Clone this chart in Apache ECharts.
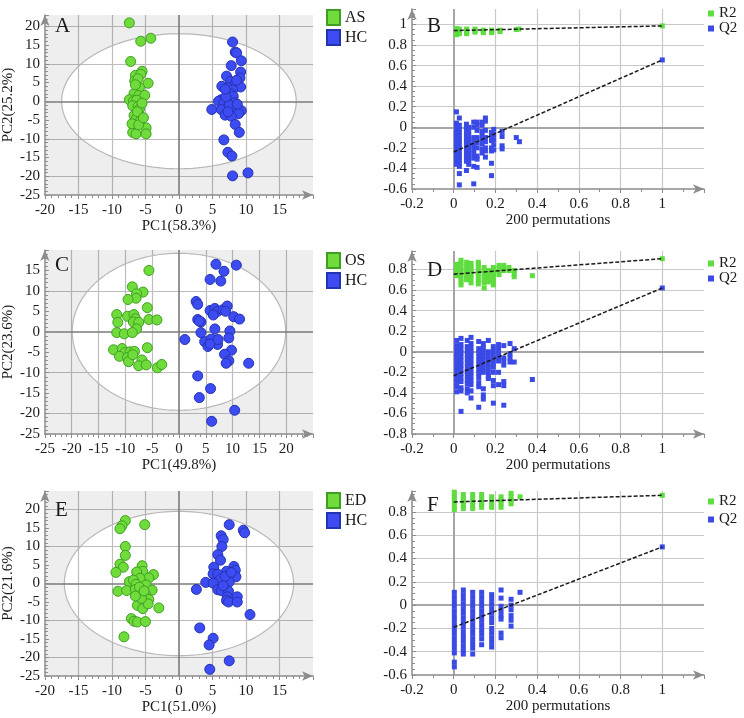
<!DOCTYPE html>
<html>
<head>
<meta charset="utf-8">
<script src="https://cdn.jsdelivr.net/npm/echarts@6/dist/echarts.min.js"></script>
<style>html,body{margin:0;padding:0;background:#fff}#c{width:744px;height:718px}</style>
</head>
<body>
<div id="c"></div>
<script>
// ---------- DATA ----------
const aAS = [[-7.4,20.9],[-5.7,16.0],[-4.2,16.8],[-7.2,10.6],[-5.5,8.0],[-6.5,6.9],[-5.7,7.2],[-6.6,5.4],[-4.6,4.8],[-5.9,3.7],[-6.7,2.1],[-6.0,1.5],[-5.1,1.6],[-7.4,0.4],[-6.8,0.0],[-6.3,0.3],[-6.9,-1.2],[-6.1,-1.4],[-5.9,-2.1],[-6.7,-3.8],[-5.9,-3.8],[-6.4,-4.7],[-5.8,-5.3],[-6.7,-6.8],[-4.9,-7.1],[-6.9,-8.3],[-6.4,-8.7],[-4.9,-8.7],[-6.1,6.0],[-6.2,-2.8],[-5.5,-0.5],[-7.0,-6.0],[-6.0,-6.3],[-5.3,-4.4],[-6.5,4.4]];
const aHC = [[8.0,15.8],[8.4,13.1],[8.6,12.9],[9.3,10.8],[7.8,9.5],[9.2,7.8],[9.1,6.2],[7.1,6.7],[7.7,5.3],[8.4,4.6],[6.4,4.0],[7.3,3.6],[9.2,3.8],[8.0,3.0],[7.7,2.0],[8.1,1.3],[6.3,0.4],[5.9,0.0],[6.7,-0.3],[8.3,-0.4],[4.9,-2.2],[6.3,-2.2],[8.1,-1.4],[9.3,-2.5],[8.9,-3.3],[6.9,-3.7],[7.8,-4.0],[8.4,-6.2],[9.0,-8.3],[6.7,-10.3],[7.3,-13.6],[7.9,-14.6],[8.0,-19.9],[10.3,-19.1],[7.5,-1.0],[7.0,1.2],[8.6,5.6],[7.3,-2.8],[6.9,3.2],[8.7,-0.8]];
const cOS = [[-5.6,15.0],[-8.7,11.0],[-6.7,9.7],[-7.9,9.3],[-8.0,8.2],[-9.5,7.9],[-5.9,5.9],[-11.6,4.2],[-9.6,3.8],[-8.4,4.2],[-8.1,3.2],[-5.6,3.0],[-4.1,2.9],[-11.4,2.3],[-8.5,2.4],[-7.5,2.3],[-7.9,0.7],[-11.6,-0.2],[-10.2,-0.5],[-8.7,-0.2],[-5.9,-3.9],[-12.2,-4.4],[-10.6,-4.1],[-10.1,-5.1],[-9.1,-4.9],[-8.3,-4.8],[-11.1,-6.0],[-9.6,-6.3],[-9.4,-7.3],[-6.9,-6.9],[-7.5,-8.3],[-6.1,-8.1],[-4.0,-8.8],[-3.2,-8.0],[-8.6,-5.6]];
const cHC = [[6.9,16.5],[10.7,16.3],[8.4,14.8],[5.8,12.8],[7.8,12.4],[3.2,7.4],[3.5,6.7],[5.8,5.2],[6.7,5.7],[7.2,5.0],[6.4,4.1],[8.2,5.4],[9.0,6.3],[8.7,5.0],[10.2,3.7],[11.3,3.1],[3.5,3.0],[4.1,2.4],[3.8,2.6],[6.7,0.7],[9.5,0.2],[1.1,-1.9],[4.1,-0.2],[9.3,-1.5],[4.8,-2.4],[5.4,-3.6],[6.1,-2.6],[6.7,-2.0],[7.2,-3.1],[6.0,-1.8],[5.8,-3.0],[7.3,-1.9],[9.8,-4.5],[8.5,-5.5],[9.3,-7.1],[8.8,-7.7],[13.0,-7.7],[3.5,-10.8],[5.9,-13.9],[3.8,-16.1],[10.4,-19.2],[6.1,-21.9]];
const eED = [[-8.0,17.0],[-8.5,15.6],[-8.8,14.8],[-5.1,15.9],[-8.0,10.0],[-8.0,7.6],[-8.8,5.2],[-8.3,4.4],[-9.4,3.0],[-5.5,4.8],[-5.4,3.3],[-6.3,3.1],[-3.8,2.4],[-4.5,1.5],[-5.8,1.4],[-7.4,0.5],[-6.8,0.9],[-6.4,-0.2],[-4.9,-0.4],[-9.1,-2.1],[-7.8,-1.9],[-6.5,-1.6],[-5.9,-1.0],[-4.0,-1.8],[-5.0,-3.0],[-4.5,-4.3],[-6.2,-5.9],[-5.4,-6.8],[-4.6,-5.5],[-3.0,-6.6],[-5.6,-4.0],[-7.1,-9.5],[-6.7,-10.2],[-6.2,-10.4],[-5.0,-10.3],[-8.2,-14.4],[-6.5,-3.4],[-5.2,-2.0]];
const eHC = [[7.5,15.9],[9.6,14.4],[9.8,13.7],[6.3,12.9],[6.6,11.9],[6.4,10.0],[5.8,7.8],[6.2,6.3],[8.2,4.6],[8.4,3.6],[5.2,4.4],[7.1,3.3],[7.6,2.4],[5.1,2.6],[5.8,2.5],[8.5,1.8],[6.2,1.2],[4.0,0.3],[5.1,0.1],[7.5,0.4],[2.6,-1.6],[5.8,-1.7],[6.3,-1.9],[7.4,-2.1],[7.2,-3.6],[8.7,-3.6],[7.1,-4.6],[7.4,-5.0],[8.7,-5.0],[10.6,-8.4],[3.1,-12.0],[5.1,-14.8],[4.5,-16.6],[7.5,-20.9],[4.6,-23.2],[6.9,1.9],[7.8,3.0],[6.6,-0.6]];
// Hotelling T2 ellipse radii [rx, ry]
const aEllipse = [17.5, 18.0];
const cEllipse = [19.9, 19.2];
const eEllipse = [17.1, 19.5];

// permutation columns: [x, [y values]]
const bR2Cols = [[0.013,[0.96,0.945,0.93,0.915,0.90]],[0.027,[0.955,0.94,0.925,0.91]],[0.062,[0.955,0.94,0.925,0.91]],[0.102,[0.955,0.94,0.925]],[0.142,[0.945,0.93,0.92]],[0.182,[0.945,0.93,0.92]],[0.222,[0.945,0.93]],[0.30,[0.95]],[0.312,[0.955]],[1,[0.986]]];
const bQ2Cols = [[0.013,[0.15,0.04,0.0,-0.03,-0.06,-0.09,-0.12,-0.15,-0.18,-0.21,-0.24,-0.27,-0.30,-0.33,-0.36]],[0.027,[0.09,0.02,-0.02,-0.05,-0.08,-0.11,-0.14,-0.17,-0.2,-0.23,-0.26,-0.29,-0.32,-0.35,-0.38,-0.45,-0.56]],[0.061,[0.03,-0.01,-0.05,-0.09,-0.13,-0.17,-0.21,-0.25,-0.29,-0.33,-0.42]],[0.072,[0.0,-0.04,-0.08,-0.12,-0.16,-0.2,-0.24,-0.28,-0.32,-0.36]],[0.096,[0.05,0.0,-0.1,-0.14,-0.18,-0.22,-0.26,-0.30,-0.38,-0.55]],[0.112,[0.05,0.02,-0.03,-0.1,-0.15,-0.2,-0.28,-0.31,-0.39]],[0.136,[0.05,0.02,-0.04,-0.08,-0.12,-0.16,-0.21,-0.25]],[0.152,[0.09,0.06,-0.03,-0.1,-0.14,-0.2,-0.23,-0.29]],[0.181,[-0.05,-0.08,-0.1,-0.13,-0.2,-0.23,-0.35,-0.47]],[0.192,[-0.02,-0.07,-0.12,-0.17,-0.22]],[0.232,[-0.04,-0.09,-0.18,-0.21]],[0.30,[-0.10]],[0.315,[-0.14]],[1,[0.655]]];
const bR2Fit = [[0,0.94],[1,0.986]];
const bQ2Fit = [[0,-0.24],[1,0.655]];

const dR2Cols = [[0.014,[0.85,0.82,0.79,0.76,0.74]],[0.035,[0.89,0.86,0.83,0.8,0.77,0.74,0.71,0.68,0.65]],[0.062,[0.87,0.84,0.81,0.78,0.75,0.72,0.70]],[0.083,[0.86,0.83,0.8,0.77,0.74,0.71,0.67]],[0.118,[0.87,0.84,0.81,0.78,0.75,0.72,0.69,0.66]],[0.146,[0.82,0.79,0.76,0.73,0.70,0.67,0.62]],[0.166,[0.79,0.76,0.73,0.70,0.68]],[0.19,[0.82,0.79,0.76,0.73,0.70,0.67,0.65]],[0.217,[0.84,0.81,0.78,0.75]],[0.24,[0.84,0.81,0.79]],[0.265,[0.82,0.79]],[0.29,[0.79,0.76,0.73]],[0.377,[0.74]],[1,[0.905]]];
const dQ2Cols = [[0.014,[0.11,0.06,0.02,-0.02,-0.06,-0.1,-0.14,-0.18,-0.22,-0.26,-0.30,-0.34,-0.39]],[0.035,[0.13,0.07,0.03,-0.01,-0.05,-0.09,-0.13,-0.17,-0.21,-0.25,-0.29,-0.35,-0.38,-0.58]],[0.065,[0.11,0.05,0.01,-0.03,-0.07,-0.11,-0.15,-0.19,-0.23,-0.27,-0.31,-0.36,-0.40]],[0.083,[0.14,0.08,0.04,0.0,-0.04,-0.08,-0.12,-0.16,-0.2,-0.24,-0.28,-0.32,-0.38,-0.45]],[0.12,[0.1,0.03,-0.01,-0.05,-0.09,-0.13,-0.17,-0.21,-0.25,-0.3,-0.34,-0.54]],[0.142,[0.08,0.04,0.0,-0.04,-0.08,-0.12,-0.16,-0.2,-0.36,-0.42,-0.46]],[0.166,[0.11,0.0,-0.04,-0.08,-0.12,-0.16,-0.2,-0.24,-0.26]],[0.19,[0.05,0.01,-0.03,-0.07,-0.11,-0.15,-0.2,-0.28,-0.33,-0.50]],[0.215,[0.07,0.03,-0.01,-0.05,-0.09,-0.2,-0.32]],[0.24,[0.06,-0.06,-0.09,-0.13,-0.29,-0.33,-0.52]],[0.27,[0.08,-0.02,-0.06,-0.1]],[0.29,[0.03,-0.1]],[0.377,[-0.27]],[1,[0.62]]];
const dR2Fit = [[0,0.755],[1,0.905]];
const dQ2Fit = [[0,-0.233],[1,0.62]];

const fR2Cols = [[0.003,[0.97,0.94,0.91,0.88,0.85,0.82]],[0.046,[0.95,0.92,0.89,0.86,0.83]],[0.091,[0.95,0.92,0.89,0.86,0.83]],[0.134,[0.95,0.92,0.89,0.86,0.84]],[0.182,[0.93,0.9,0.87,0.84]],[0.227,[0.93,0.9,0.87,0.84]],[0.275,[0.96,0.93,0.9,0.87]],[0.318,[0.93]],[1,[0.943]]];
const fQ2Cols = [[0.003,[0.11,0.07,0.03,-0.01,-0.05,-0.09,-0.13,-0.17,-0.21,-0.25,-0.29,-0.33,-0.37,-0.41,-0.49,-0.53]],[0.046,[0.13,0.09,0.05,0.01,-0.03,-0.07,-0.11,-0.15,-0.19,-0.23,-0.27,-0.31,-0.35,-0.39,-0.42]],[0.091,[0.11,0.07,0.03,-0.01,-0.05,-0.09,-0.13,-0.17,-0.21,-0.25,-0.29,-0.33,-0.37,-0.42]],[0.134,[0.11,0.07,0.03,-0.01,-0.05,-0.09,-0.13,-0.17,-0.21,-0.25,-0.29,-0.34]],[0.182,[0.09,0.05,0.01,-0.03,-0.07,-0.11,-0.15,-0.2,-0.24,-0.28,-0.32,-0.36]],[0.227,[0.13,0.06,-0.01,-0.05,-0.09,-0.12,-0.24,-0.28]],[0.275,[0.05,0.0,-0.04,-0.09,-0.13,-0.18]],[0.318,[0.11]],[1,[0.5]]];
const fR2Fit = [[0,0.886],[1,0.943]];
const fQ2Fit = [[0,-0.19],[1,0.5]];

// grid line positions (axis values) per panel
const gridXs = [[-15,-10,-5,5,10,15], [0.2,0.4,0.6,0.8,1.0], [-20,-15,-10,-5,5,10,15,20], [0.2,0.4,0.6,0.8,1.0], [-15,-10,-5,5,10,15], [0.2,0.4,0.6,0.8,1.0]];
const gridYs = [[-20,-10,10,20], [-0.4,-0.2,0.2,0.4,0.6,0.8,1.0], [-20,-10,10], [-0.6,-0.4,-0.2,0.2,0.4,0.6,0.8], [-20,-10,10,20], [-0.4,-0.2,0.2,0.4,0.6,0.8]];

const pcaNames = [['AS','HC'],['OS','HC'],['ED','HC']];
const axisNames = {pc1:['PC1(58.3%)','PC1(49.8%)','PC1(51.0%)'], pc2:['PC2(25.2%)','PC2(23.6%)','PC2(21.6%)'], perm:'200 permutations'};
const letters = ['A','B','C','D','E','F'];

// ---------- STYLE / LAYOUT ----------
const FONT = '"Liberation Serif", "Times New Roman", serif';
const TXT = '#1a1a1a';
const AX = '#8c8c8c';
const GREEN = '#6fdc3c', GREEN_B = '#3f9f22';
const BLUE = '#3d4cf2', BLUE_B = '#2433b0';
const PGREEN = '#5fdc3f', PBLUE = '#3a4ae6';

const flat = cols => { const out = []; cols.forEach(c => c[1].forEach(y => out.push([c[0], y]))); return out; };

const grids = [
  {left:40, top:15, width:273, height:180},   // A
  {left:412, top:9, width:292, height:180},   // B
  {left:40, top:250, width:273, height:184},  // C
  {left:412, top:251, width:292, height:183}, // D
  {left:40, top:491, width:273, height:185},  // E
  {left:412, top:491, width:292, height:184}  // F
];
const ranges = [
  {x:[-20,20,5], y:[-25,23,5]},
  {x:[-0.2,1.2,0.2], y:[-0.6,1.15,0.2]},
  {x:[-25,25,5], y:[-25,20,5]},
  {x:[-0.2,1.2,0.2], y:[-0.8,0.98,0.2]},
  {x:[-20,20,5], y:[-25,25,5]},
  {x:[-0.2,1.2,0.2], y:[-0.6,0.98,0.2]}
];

function mkAxis(i, dim, pca) {
  const r = ranges[i][dim];
  const isX = dim === 'x';
  const k = Math.floor(i/2);
  return {
    type:'value', gridIndex:i, min:r[0], max:r[1], interval:r[2], z:4,
    axisLine:{show:true, onZero:false, lineStyle:{color:AX, width:1.5}, symbol:['none','arrow'], symbolSize:[7,11]},
    axisTick:{show:true, inside:!isX, length:4, lineStyle:{color:AX}},
    minorTick:{show:true, splitNumber: pca ? 5 : (isX ? 2 : 4), length:3, lineStyle:{color:AX}},
    axisLabel:{fontFamily:FONT, fontSize:15, color:TXT, margin:isX?8:5, showMaxLabel:false},
    splitLine:{show:false},
    name: isX ? (pca ? axisNames.pc1[k] : axisNames.perm) : (pca ? axisNames.pc2[k] : ''),
    nameLocation:'middle', nameGap: isX ? 24 : 25,
    nameTextStyle:{fontFamily:FONT, fontSize:15, color:TXT}
  };
}

const xAxis = [], yAxis = [], series = [], legend = [], graphic = [];
for (let i = 0; i < 6; i++) {
  const pca = i % 2 === 0;
  xAxis.push(mkAxis(i, 'x', pca));
  yAxis.push(mkAxis(i, 'y', pca));
}
const gridMark = i => ({z:0.5, silent:true, animation:false, symbol:'none', label:{show:false},
  lineStyle:{color: i % 2 === 0 ? '#bdbdbd' : '#c8c8c8', width:1.2, type:'solid'},
  data: gridXs[i].map(v => ({xAxis:v})).concat(gridYs[i].map(v => ({yAxis:v})))});
const zeroLine = (color, width) => ({z:2, silent:true, symbol:'none', label:{show:false}, lineStyle:{color, width, type:'solid'}, data:[{xAxis:0},{yAxis:0}], animation:false});

const pcaSets = [[aAS,aHC,aEllipse],[cOS,cHC,cEllipse],[eED,eHC,eEllipse]];
pcaSets.forEach((s, k) => {
  const gi = k*2;
  series.push({
    type:'custom', xAxisIndex:gi, yAxisIndex:gi, z:1, silent:true,
    data:[[0,0,s[2][0],s[2][1]]],
    renderItem:(params, api) => {
      const cs = params.coordSys;
      const c = api.coord([api.value(0), api.value(1)]);
      const sz = api.size([api.value(2), api.value(3)]);
      const N = 160;
      const ell = [];
      for (let j = 0; j <= N; j++) { const t = j/N*2*Math.PI; ell.push([c[0]+sz[0]*Math.cos(t), c[1]+sz[1]*Math.sin(t)]); }
      const x0 = cs.x, y0 = cs.y, x1 = cs.x + cs.width, y1 = cs.y + cs.height;
      const outer = [[x0,c[1]],[x0,y0],[x1,y0],[x1,y1],[x0,y1],[x0,c[1]]];
      const hole = [];
      for (let j = 0; j <= N; j++) { const t = Math.PI - j/N*2*Math.PI; hole.push([c[0]+sz[0]*Math.cos(t), c[1]+sz[1]*Math.sin(t)]); }
      return {type:'group', children:[
        {type:'polygon', shape:{points:outer.concat(hole)}, style:{fill:'rgba(0,0,0,0.065)', stroke:'none'}},
        {type:'polygon', shape:{points:ell}, style:{fill:'none', stroke:'#b8b8b8', lineWidth:1.2}}
      ]};
    }
  });
  series.push({
    type:'scatter', name:pcaNames[k][0], xAxisIndex:gi, yAxisIndex:gi, z:3, data:s[0],
    symbol:'circle', symbolSize:10, itemStyle:{color:GREEN, borderColor:GREEN_B, borderWidth:1, opacity:1},
    markLine: zeroLine('#7a7a7a', 1.6)
  });
  series.push({
    type:'scatter', name:pcaNames[k][1], xAxisIndex:gi, yAxisIndex:gi, z:3, data:s[1],
    symbol:'circle', symbolSize:10, itemStyle:{color:BLUE, borderColor:BLUE_B, borderWidth:1, opacity:1},
    markLine: gridMark(gi)
  });
});

const permSets = [[bR2Cols,bQ2Cols,bR2Fit,bQ2Fit],[dR2Cols,dQ2Cols,dR2Fit,dQ2Fit],[fR2Cols,fQ2Cols,fR2Fit,fQ2Fit]];
permSets.forEach((s, k) => {
  const gi = k*2+1;
  series.push({
    type:'scatter', name:'R2', xAxisIndex:gi, yAxisIndex:gi, z:3, data:flat(s[0]),
    symbol:'rect', symbolSize:5, itemStyle:{color:PGREEN, opacity:1},
    markLine: zeroLine('#a6a6a6', 2)
  });
  series.push({
    type:'scatter', name:'Q2', xAxisIndex:gi, yAxisIndex:gi, z:3, data:flat(s[1]),
    symbol:'rect', symbolSize:5, itemStyle:{color:PBLUE, opacity:1},
    markLine: gridMark(gi)
  });
  [s[2], s[3]].forEach(fit => series.push({
    type:'line', xAxisIndex:gi, yAxisIndex:gi, z:4, data:fit, symbol:'none', silent:true,
    lineStyle:{color:'#1a1a1a', width:1.5, type:[4,2]}
  }));
});

// legends
const pcaLegTops = [4, 247, 487];
pcaLegTops.forEach((t, k) => legend.push({
  data:pcaNames[k], left:321, top:t, orient:'vertical', icon:'rect', itemWidth:13, itemHeight:15, itemGap:3,
  textStyle:{fontFamily:FONT, fontSize:16, color:TXT, lineHeight:15}, selectedMode:false
}));
const permLegTops = [[1,0],[251,0],[489,3]];
permLegTops.forEach(t => legend.push({
  data:['R2','Q2'], left:703, top:t[0], orient:'vertical', icon:'rect', itemWidth:6, itemHeight:6, itemGap:t[1],
  textStyle:{fontFamily:FONT, fontSize:15, color:TXT, lineHeight:15}, selectedMode:false
}));

// panel letters
const letterPos = [[55,16],[427,16],[55,255],[427,260],[55,500],[427,495]];
letterPos.forEach((p, i) => graphic.push({
  type:'text', left:p[0], top:p[1], z:10,
  style:{text:letters[i], fontFamily:FONT, fontSize:21, fill:TXT}
}));

const chart = echarts.init(document.getElementById('c'), null, {renderer:'canvas'});
chart.setOption({
  animation:false,
  backgroundColor:'#ffffff',
  grid: grids.map(g => Object.assign({show:false}, g)),
  xAxis, yAxis, series, legend, graphic
});
</script>
</body>
</html>
